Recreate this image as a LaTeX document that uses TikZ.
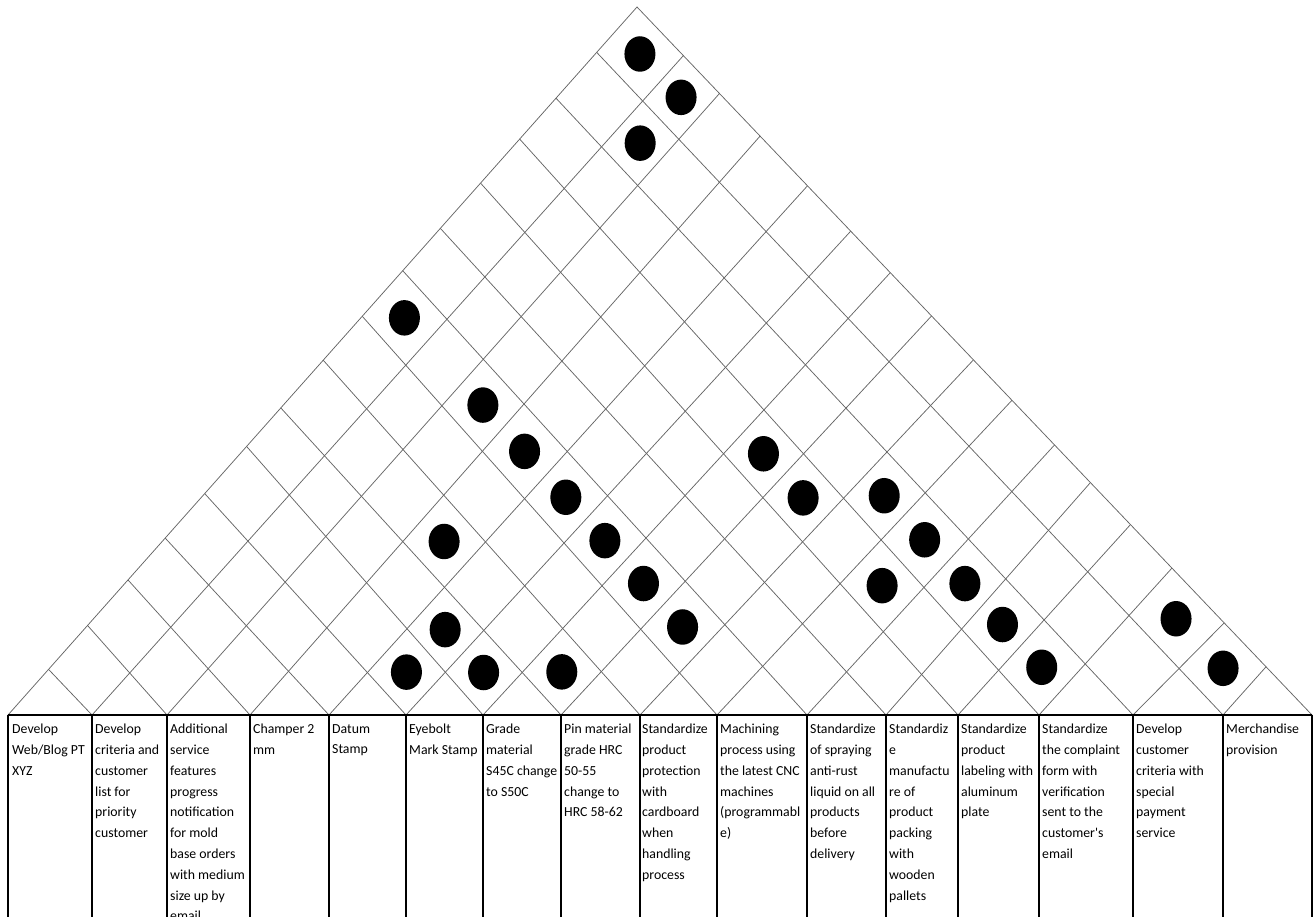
\documentclass[tikz,border=0pt]{standalone}
\usepackage{fontspec}
\setmainfont{Carlito}
\usetikzlibrary{shapes.geometric}
\begin{document}
\begin{tikzpicture}[x=1pt,y=-1pt,
  roof/.style={draw=black!60, line width=0.75pt},
  frame/.style={draw=black, line width=1.4pt},
  collabel/.style={anchor=north west, inner sep=0pt, align=left,
    font=\fontsize{13.8}{20.8}\selectfont},
  dotmark/.style={ellipse, fill=black, draw=none, minimum width=31pt, minimum height=35.5pt, inner sep=0pt}]
\useasboundingbox (0,0) rectangle (1315,917);
% column boundaries on the table top
\def\B{{8,92,167,250,329,406,483,561,640,717,807,886,958,1039,1133,1223,1312}}
% slopes of the rising-to-the-right lines (index = boundary) and rising-to-the-left lines
\def\SR{{1.1256,1.115,1.125,1.135,1.106,1.088,1.086,1.077,1.065,1.067,1.091,1.137,1.104,1.105,1.01,1.12}}
\def\SL{{1,1.05,1.127,1.107,1.08,1.10,1.136,1.096,1.12,1.124,1.099,1.092,1.114,1.109,1.069,1.058,1.0489}}
\foreach \k in {0,...,16}{
  \pgfmathsetmacro\a{\B[\k]}
  \coordinate (b\k) at (\a,715);
}
\coordinate (apex) at (637,7);
% outer edges of the roof
\draw[roof] (b0) -- (apex) -- (b16);
% roof: lines rising to the right, ending on the right edge
\foreach \k in {1,...,15}{
  \pgfmathsetmacro\a{\B[\k]}
  \pgfmathsetmacro\slp{\SR[\k]}
  \pgfmathsetmacro\xe{(\slp*\a+1.0489*1312)/(\slp+1.0489)}
  \pgfmathsetmacro\ye{715-\slp*(\xe-\a)}
  \coordinate (ur\k) at (\xe,\ye);
  \draw[roof] (b\k) -- (ur\k);
}
% roof: lines rising to the left, ending on the left edge
\foreach \k in {1,...,15}{
  \pgfmathsetmacro\a{\B[\k]}
  \pgfmathsetmacro\slp{\SL[\k]}
  \pgfmathsetmacro\xe{(\slp*\a+1.1256*8)/(\slp+1.1256)}
  \pgfmathsetmacro\ye{715-1.1256*(\xe-8)}
  \coordinate (ul\k) at (\xe,\ye);
  \draw[roof] (b\k) -- (ul\k);
}
% corner of the lattice: rising-right line #1 meets rising-left line #2
\newcommand\latcorner[2]{%
  \pgfmathsetmacro\pa{\B[#1]}\pgfmathsetmacro\ps{\SR[#1]}%
  \pgfmathsetmacro\qb{\B[#2]}\pgfmathsetmacro\qs{\SL[#2]}%
  \pgfmathsetmacro\cx{(\ps*\pa+\qs*\qb)/(\ps+\qs)}%
  \pgfmathsetmacro\cy{715-\ps*(\cx-\pa)}}
% correlation dots (cell of column i and column j)
\foreach \i/\j [count=\n] in {0/15,1/15,1/14,0/9,2/9,3/9,6/12,4/9,7/12,8/13,5/9,3/7,9/13,6/9,9/12,10/13,4/6,7/9,11/13,13/15,4/5,5/6,6/7,12/13,14/15}{
  \pgfmathtruncatemacro\ii{\i+1}
  \pgfmathtruncatemacro\jj{\j+1}
  \latcorner{\i}{\j}\let\xa\cx\let\ya\cy
  \latcorner{\ii}{\j}\let\xb\cx\let\yb\cy
  \latcorner{\i}{\jj}\let\xc\cx\let\yc\cy
  \latcorner{\ii}{\jj}\let\xd\cx\let\yd\cy
  \pgfmathsetmacro\xm{(\xa+\xb+\xc+\xd)/4}
  \pgfmathsetmacro\ym{(\ya+\yb+\yc+\yd)/4}
  \node[dotmark] (d\n) at (\xm,\ym) {};
}
% table frame
\draw[frame] (b0) -- (b16);
\foreach \k in {0,...,16}{
  \draw[frame] (b\k) -- ++(0,202);
}
% column labels
\node[collabel] (t0)  at (12,724)   {Develop\\Web/Blog PT\\XYZ};
\node[collabel] (t1)  at (95,724)   {Develop\\criteria and\\customer\\list for\\priority\\customer};
\node[collabel] (t2)  at (170,724)  {Additional\\service\\features\\progress\\notification\\for mold\\base orders\\with medium\\size up by\\email};
\node[collabel] (t3)  at (253,724)  {Champer 2\\mm};
\node[collabel] (t4)  at (332,724)  {Datum\\Stamp};
\node[collabel] (t5)  at (409,724)  {Eyebolt\\Mark Stamp};
\node[collabel] (t6)  at (486,724)  {Grade\\material\\S45C change\\to S50C};
\node[collabel] (t7)  at (564,724)  {Pin material\\grade HRC\\50-55\\change to\\HRC 58-62};
\node[collabel] (t8)  at (642,724)  {Standardize\\product\\protection\\with\\cardboard\\when\\handling\\process};
\node[collabel] (t9)  at (720,724)  {Machining\\process using\\the latest CNC\\machines\\(programmabl\\e)};
\node[collabel] (t10) at (810,724)  {Standardize\\of spraying\\anti-rust\\liquid on all\\products\\before\\delivery};
\node[collabel] (t11) at (889,724)  {Standardiz\\e\\manufactu\\re of\\product\\packing\\with\\wooden\\pallets};
\node[collabel] (t12) at (961,724)  {Standardize\\product\\labeling with\\aluminum\\plate};
\node[collabel] (t13) at (1042,724) {Standardize\\the complaint\\form with\\verification\\sent to the\\customer\textquotesingle s\\email};
\node[collabel] (t14) at (1136,724) {Develop\\customer\\criteria with\\special\\payment\\service};
\node[collabel] (t15) at (1226,724) {Merchandise\\provision};
\end{tikzpicture}
\end{document}
